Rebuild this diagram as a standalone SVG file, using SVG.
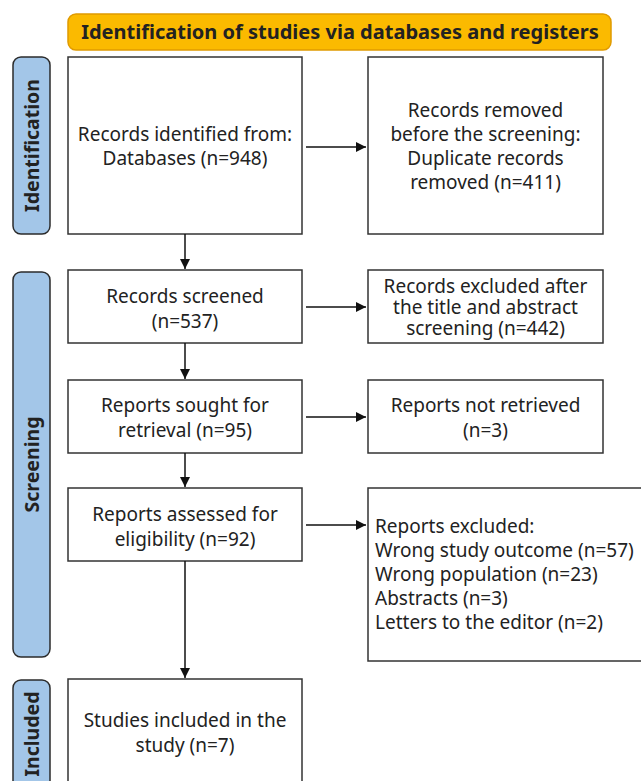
<svg xmlns="http://www.w3.org/2000/svg" width="641" height="781" viewBox="0 0 641 781">
<defs>
<style>
.box{fill:#fff;stroke:#333;stroke-width:1.5}
.side{fill:#a3c6e8;stroke:#2b2b2b;stroke-width:1.5}
.t{font-family:"Noto Sans","Liberation Sans",sans-serif;font-size:19px;fill:#222;text-anchor:middle}
.tl{font-family:"Noto Sans","Liberation Sans",sans-serif;font-size:19px;fill:#222}
.sl{font-family:"Noto Sans","Liberation Sans",sans-serif;font-size:19.5px;font-weight:bold;fill:#222;text-anchor:middle}
.ban{font-family:"Noto Sans","Liberation Sans",sans-serif;font-size:20px;font-weight:bold;fill:#222;text-anchor:middle}
.c{stroke:#111;stroke-width:1.5;fill:none;marker-end:url(#ah)}
</style>
<marker id="ah" viewBox="0 0 10 10" refX="10" refY="5" markerWidth="10" markerHeight="10" markerUnits="userSpaceOnUse" orient="auto">
<path d="M0,0 L10,5 L0,10 z" fill="#111"/>
</marker>
</defs>
<rect width="641" height="781" fill="#fff"/>
<g id="banner">
<rect x="68" y="14" width="543" height="36" rx="8" fill="#fbba00" stroke="#e09a00" stroke-width="1.5"/>
<text class="ban" x="340" y="39">Identification of studies via databases and registers</text>
</g>
<g id="stage-identification">
<rect class="side" x="13" y="57" width="37" height="177" rx="8"/>
<text class="sl" transform="translate(38.5,145.5) rotate(-90)">Identification</text>
</g>
<g id="stage-screening">
<rect class="side" x="13" y="272" width="37" height="385" rx="8"/>
<text class="sl" transform="translate(38.5,464.5) rotate(-90)">Screening</text>
</g>
<g id="stage-included">
<rect class="side" x="13" y="680" width="37" height="115" rx="8"/>
<text class="sl" transform="translate(38.5,734) rotate(-90)">Included</text>
</g>
<g id="n1">
<rect class="box" x="68" y="57" width="234" height="177"/>
<text class="t" x="185" y="141">Records identified from:</text>
<text class="t" x="185" y="165">Databases (n=948)</text>
</g>
<g id="n2">
<rect class="box" x="368" y="57" width="235" height="177"/>
<text class="t" x="485.5" y="117">Records removed</text>
<text class="t" x="485.5" y="141">before the screening:</text>
<text class="t" x="485.5" y="165">Duplicate records</text>
<text class="t" x="485.5" y="189">removed (n=411)</text>
</g>
<g id="n3">
<rect class="box" x="68" y="270" width="234" height="73"/>
<text class="t" x="185" y="303">Records screened</text>
<text class="t" x="185" y="328">(n=537)</text>
</g>
<g id="n4">
<rect class="box" x="368" y="270" width="235" height="73"/>
<text class="t" x="485.5" y="293">Records excluded after</text>
<text class="t" x="485.5" y="314">the title and abstract</text>
<text class="t" x="485.5" y="335">screening (n=442)</text>
</g>
<g id="n5">
<rect class="box" x="68" y="380" width="234" height="73"/>
<text class="t" x="185" y="412">Reports sought for</text>
<text class="t" x="185" y="437">retrieval (n=95)</text>
</g>
<g id="n6">
<rect class="box" x="368" y="380" width="235" height="73"/>
<text class="t" x="485.5" y="412">Reports not retrieved</text>
<text class="t" x="485.5" y="437">(n=3)</text>
</g>
<g id="n7">
<rect class="box" x="68" y="488" width="234" height="73"/>
<text class="t" x="185" y="521">Reports assessed for</text>
<text class="t" x="185" y="546">eligibility (n=92)</text>
</g>
<g id="n8">
<rect class="box" x="368" y="488" width="280" height="173"/>
<text class="tl" x="375" y="533">Reports excluded:</text>
<text class="tl" x="375" y="557">Wrong study outcome (n=57)</text>
<text class="tl" x="375" y="581">Wrong population (n=23)</text>
<text class="tl" x="375" y="605">Abstracts (n=3)</text>
<text class="tl" x="375" y="629">Letters to the editor (n=2)</text>
</g>
<g id="n9">
<rect class="box" x="68" y="679" width="234" height="120"/>
<text class="t" x="185" y="727">Studies included in the</text>
<text class="t" x="185" y="752">study (n=7)</text>
</g>
<g id="connectors">
<line class="c" x1="306" y1="147" x2="366" y2="147"/>
<line class="c" x1="306" y1="307" x2="366" y2="307"/>
<line class="c" x1="306" y1="417" x2="366" y2="417"/>
<line class="c" x1="306" y1="525" x2="366" y2="525"/>
<line class="c" x1="185" y1="234" x2="185" y2="269"/>
<line class="c" x1="185" y1="343" x2="185" y2="379"/>
<line class="c" x1="185" y1="453" x2="185" y2="487"/>
<line class="c" x1="185" y1="561" x2="185" y2="678"/>
</g>
</svg>
